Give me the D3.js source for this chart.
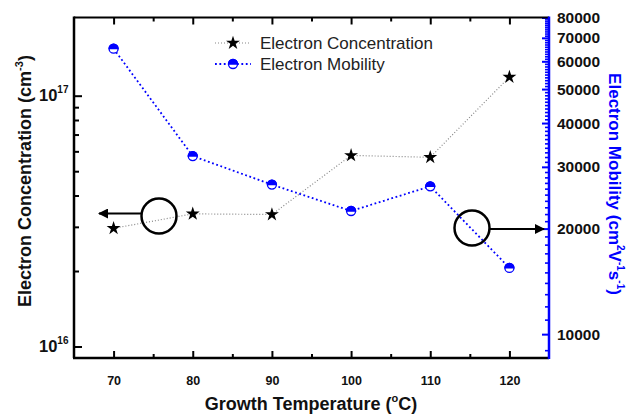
<!DOCTYPE html>
<html>
<head>
<meta charset="utf-8">
<script src="https://cdn.jsdelivr.net/npm/d3@7"></script>
<style>
  body { margin: 0; background: #fff; }
  text { font-family: "Liberation Sans", Arial, sans-serif; }
</style>
</head>
<body>
<div id="chart"></div>
<script>
// growth temperature (C)
const temps = [70, 80, 90, 100, 110, 120];
// electron concentration (cm^-3)
const concentration = [2.96e16, 3.38e16, 3.36e16, 5.78e16, 5.68e16, 1.187e17];
// electron mobility (cm^2 V^-1 s^-1)
const mobility = [65200, 32200, 26700, 22450, 26400, 15450];

const xMajor = [70, 80, 90, 100, 110, 120];
const xMinor = [75, 85, 95, 105, 115];
const leftMajor = [1e16, 1e17];
const leftExp = [16, 17];
const rightMajor = [10000, 20000, 30000, 40000, 50000, 60000, 70000, 80000];

const width = 628, height = 415;
const margin = {top: 17.5, right: 79, bottom: 57, left: 74};

const svg = d3.select("#chart").append("svg")
    .attr("width", width)
    .attr("height", height);

const x = d3.scaleLinear().domain([65, 125]).range([margin.left, width - margin.right]);
const yL = d3.scaleLog().domain([9e15, 2.05e17]).range([height - margin.bottom, margin.top]);
const yR = d3.scaleLog().domain([8550, 80000]).range([height - margin.bottom, margin.top]);

const x0 = x.range()[0], x1 = x.range()[1];
const yb = yL.range()[0], yt = yL.range()[1];

// bottom axis ticks (inward) + labels
svg.append("g")
    .attr("transform", `translate(0,${yb})`)
    .call(d3.axisBottom(x).tickValues(xMajor).tickSize(-7).tickFormat(d3.format("d")))
    .call(g => g.select(".domain").remove())
    .call(g => g.selectAll("line").attr("stroke-width", 2))
    .call(g => g.selectAll("text").attr("dy", "1.95em").attr("font-size", 12.5).attr("font-weight", "bold").attr("fill", "#111"));
svg.append("g")
    .attr("transform", `translate(0,${yb})`)
    .call(d3.axisBottom(x).tickValues(xMinor).tickSize(-4).tickFormat(""))
    .call(g => g.select(".domain").remove())
    .call(g => g.selectAll("line").attr("stroke-width", 2));

// top mirrored ticks
svg.append("g")
    .attr("transform", `translate(0,${yt})`)
    .call(d3.axisTop(x).tickValues(xMajor).tickSize(-7).tickFormat(""))
    .call(g => g.select(".domain").remove())
    .call(g => g.selectAll("line").attr("stroke-width", 2));
svg.append("g")
    .attr("transform", `translate(0,${yt})`)
    .call(d3.axisTop(x).tickValues(xMinor).tickSize(-4).tickFormat(""))
    .call(g => g.select(".domain").remove())
    .call(g => g.selectAll("line").attr("stroke-width", 2));

// left log axis
let leftMinor = [];
for (let k = 2; k <= 9; k++) leftMinor.push(k * 1e16);
svg.append("g")
    .attr("transform", `translate(${x0},0)`)
    .call(d3.axisLeft(yL).tickValues(leftMajor).tickSize(-8).tickFormat(""))
    .call(g => g.select(".domain").remove())
    .call(g => g.selectAll("line").attr("stroke-width", 2));
svg.append("g")
    .attr("transform", `translate(${x0},0)`)
    .call(d3.axisLeft(yL).tickValues(leftMinor).tickSize(-5).tickFormat(""))
    .call(g => g.select(".domain").remove())
    .call(g => g.selectAll("line").attr("stroke-width", 2));

leftMajor.forEach((v, i) => {
  const t = svg.append("text")
      .attr("x", 39)
      .attr("y", yL(v) + 5.5)
      .attr("font-size", 16.5)
      .attr("font-weight", "bold")
      .attr("fill", "#111");
  t.append("tspan").text("10");
  t.append("tspan").attr("font-size", 10).attr("dy", -8).text(leftExp[i]);
});

// right log axis (blue)
let rightMinor = [];
for (let v = 9000; v < 80000; v += 1000) if (v % 10000 !== 0) rightMinor.push(v);
svg.append("g")
    .attr("transform", `translate(${x1},0)`)
    .call(d3.axisRight(yR).tickValues(rightMajor).tickSize(-7).tickFormat(""))
    .call(g => g.select(".domain").remove())
    .call(g => g.selectAll("line").attr("stroke", "#0000ff").attr("stroke-width", 2));
svg.append("g")
    .attr("transform", `translate(${x1},0)`)
    .call(d3.axisRight(yR).tickValues(rightMinor).tickSize(-4).tickFormat(""))
    .call(g => g.select(".domain").remove())
    .call(g => g.selectAll("line").attr("stroke", "#0000ff").attr("stroke-width", 1.6));

svg.selectAll(".rlab")
    .data(rightMajor)
    .enter().append("text")
    .attr("class", "rlab")
    .attr("x", 557)
    .attr("y", d => yR(d) + 5.5)
    .attr("font-size", 15.5)
    .attr("font-weight", "bold")
    .attr("fill", "#111")
    .text(d => d);

// frame
svg.append("line").attr("x1", x0).attr("x2", x1).attr("y1", yt).attr("y2", yt)
    .attr("stroke", "#000").attr("stroke-width", 2);
svg.append("line").attr("x1", x0 - 1).attr("x2", x1).attr("y1", yb).attr("y2", yb)
    .attr("stroke", "#000").attr("stroke-width", 2.5);
svg.append("line").attr("x1", x0).attr("x2", x0).attr("y1", yt - 1).attr("y2", yb)
    .attr("stroke", "#000").attr("stroke-width", 2.5);
svg.append("line").attr("x1", x1).attr("x2", x1).attr("y1", yt - 1).attr("y2", yb + 1)
    .attr("stroke", "#0000ff").attr("stroke-width", 2.5);

// series lines
const concLine = d3.line().x((d, i) => x(temps[i])).y(d => yL(d));
const mobLine = d3.line().x((d, i) => x(temps[i])).y(d => yR(d));

svg.append("path")
    .attr("d", concLine(concentration))
    .attr("fill", "none")
    .attr("stroke", "#888")
    .attr("stroke-width", 1.2)
    .attr("stroke-dasharray", "1,2");

svg.append("path")
    .attr("d", mobLine(mobility))
    .attr("fill", "none")
    .attr("stroke", "#0000ff")
    .attr("stroke-width", 1.8)
    .attr("stroke-dasharray", "1.8,2.6");

const star = d3.symbol().type(d3.symbolStar).size(60);

function halfCircle(g, cx, cy) {
  const r = 4.5;
  g.append("circle").attr("cx", cx).attr("cy", cy).attr("r", r)
      .attr("fill", "#fff").attr("stroke", "#0000ff").attr("stroke-width", 1.3);
  g.append("path")
      .attr("d", `M${cx - r},${cy} A${r},${r} 0 0 1 ${cx + r},${cy} Z`)
      .attr("fill", "#0000ff").attr("stroke", "#0000ff").attr("stroke-width", 1.3);
}

svg.selectAll(".star")
    .data(concentration)
    .enter().append("path")
    .attr("class", "star")
    .attr("d", star)
    .attr("transform", (d, i) => `translate(${x(temps[i])},${yL(d)})`)
    .attr("fill", "#000");

const mobG = svg.append("g");
mobility.forEach((d, i) => halfCircle(mobG, x(temps[i]), yR(d)));

// legend
const leg = svg.append("g");
leg.append("line").attr("x1", 215).attr("x2", 251).attr("y1", 43).attr("y2", 43)
    .attr("stroke", "#888").attr("stroke-width", 1.2).attr("stroke-dasharray", "1,2");
leg.append("path").attr("d", star).attr("transform", "translate(233,43)").attr("fill", "#000");
leg.append("text").attr("x", 260).attr("y", 49).attr("font-size", 17).attr("fill", "#222")
    .text("Electron Concentration");
leg.append("line").attr("x1", 215).attr("x2", 251).attr("y1", 64).attr("y2", 64)
    .attr("stroke", "#0000ff").attr("stroke-width", 1.8).attr("stroke-dasharray", "1.8,2.6");
halfCircle(leg, 233, 64);
leg.append("text").attr("x", 260).attr("y", 70).attr("font-size", 17).attr("fill", "#222")
    .text("Electron Mobility");

// annotation circles and arrows
const defs = svg.append("defs");
defs.append("marker")
    .attr("id", "arrow")
    .attr("viewBox", "0 0 10 10")
    .attr("refX", 9).attr("refY", 5)
    .attr("markerWidth", 6).attr("markerHeight", 5)
    .attr("orient", "auto")
    .append("path").attr("d", "M0,0 L10,5 L0,10 z").attr("fill", "#000");

svg.append("circle").attr("cx", 159).attr("cy", 216).attr("r", 17.5)
    .attr("fill", "none").attr("stroke", "#000").attr("stroke-width", 2.5);
svg.append("line").attr("x1", 141).attr("y1", 213.5).attr("x2", 99).attr("y2", 213.5)
    .attr("stroke", "#000").attr("stroke-width", 2).attr("marker-end", "url(#arrow)");

svg.append("circle").attr("cx", 472).attr("cy", 228).attr("r", 17.5)
    .attr("fill", "none").attr("stroke", "#000").attr("stroke-width", 2.5);
svg.append("line").attr("x1", 490).attr("y1", 229).attr("x2", 544).attr("y2", 229)
    .attr("stroke", "#000").attr("stroke-width", 2).attr("marker-end", "url(#arrow)");

// axis titles
const lt = svg.append("text")
    .attr("transform", "translate(31,181) rotate(-90)")
    .attr("text-anchor", "middle")
    .attr("font-size", 18)
    .attr("font-weight", "bold")
    .attr("fill", "#111");
lt.append("tspan").text("Electron Concentration (cm");
lt.append("tspan").attr("font-size", 11).attr("dy", -8).text("-3");
lt.append("tspan").attr("dy", 8).text(")");

const bt = svg.append("text")
    .attr("x", 311)
    .attr("y", 410)
    .attr("text-anchor", "middle")
    .attr("font-size", 18)
    .attr("font-weight", "bold")
    .attr("fill", "#111");
bt.append("tspan").text("Growth Temperature (");
bt.append("tspan").attr("font-size", 11).attr("dy", -8).text("o");
bt.append("tspan").attr("dy", 8).text("C)");

const rt = svg.append("text")
    .attr("transform", "translate(609,184) rotate(90)")
    .attr("text-anchor", "middle")
    .attr("font-size", 17)
    .attr("font-weight", "bold")
    .attr("fill", "#0000ff");
rt.append("tspan").text("Electron Mobility (cm");
rt.append("tspan").attr("font-size", 10).attr("dy", -8).text("2");
rt.append("tspan").attr("dy", 8).text("V");
rt.append("tspan").attr("font-size", 10).attr("dy", -8).text("-1");
rt.append("tspan").attr("dy", 8).text("s");
rt.append("tspan").attr("font-size", 10).attr("dy", -8).text("-1");
rt.append("tspan").attr("dy", 8).text(")");
</script>
</body>
</html>
